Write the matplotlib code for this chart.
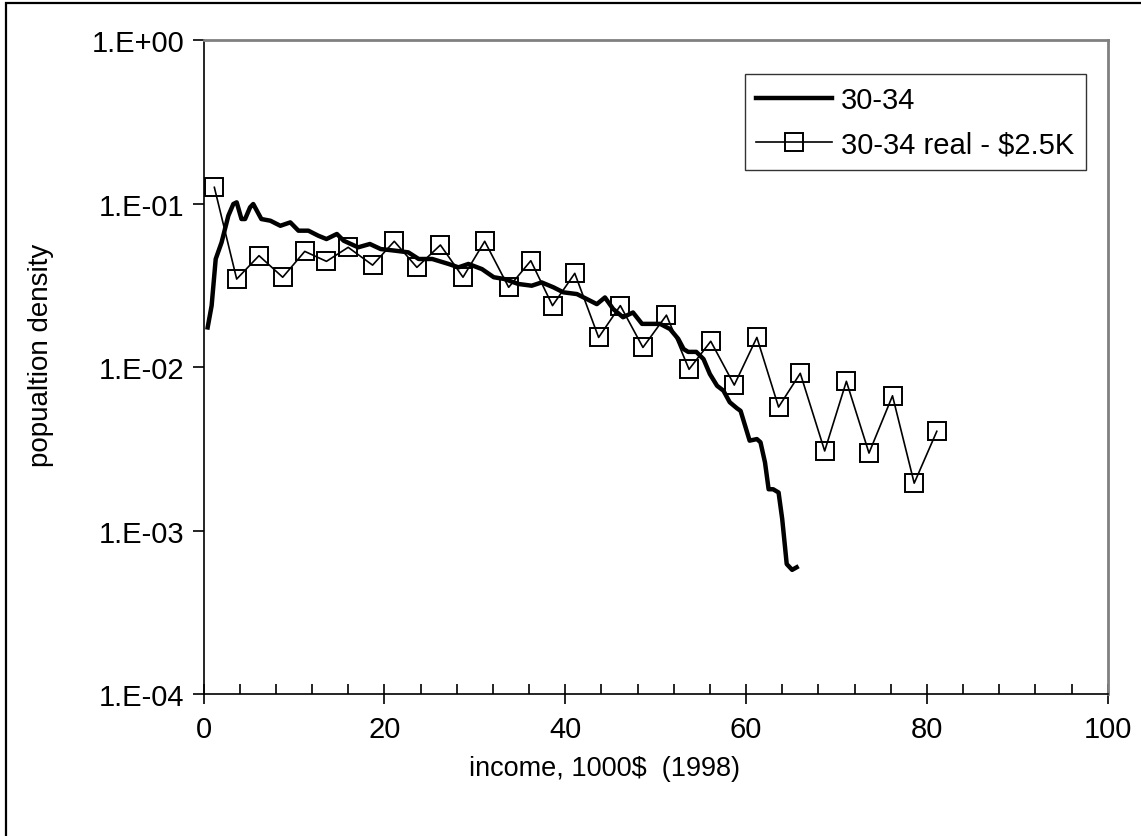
import matplotlib
matplotlib.use("Agg")
import matplotlib.pyplot as plt
from matplotlib.patches import Rectangle
from matplotlib.ticker import FixedLocator, FuncFormatter

plt.rcParams['font.family'] = ['Liberation Sans', 'DejaVu Sans']

# 30-34 (smooth density curve)
age_x = [0.46, 0.9, 1.35, 2.0, 2.75, 3.3, 3.67, 4.2, 4.6, 5.15, 5.5, 6.4, 7.4, 8.5,
         9.6, 10.5, 11.6, 12.7, 13.6, 14.75, 15.5, 17.1, 18.4, 19.6, 21.2, 22.65,
         23.8, 25.3, 27.1, 28.2, 29.3, 30.8, 32.1, 33.3, 34.8, 36.3, 37.4, 38.7,
         39.8, 41.3, 42.4, 43.5, 44.4, 45.3, 46.4, 47.5, 48.5, 49.75, 50.5, 51.6,
         52.5, 53.1, 53.6, 54.5, 55.3, 56.0, 56.8, 57.5, 58.2, 59.0, 59.4, 59.9,
         60.4, 61.2, 61.6, 62.1, 62.5, 63.0, 63.6, 64.0, 64.3, 64.5, 65.1, 65.6]
age_y = [0.0175, 0.0238, 0.0459, 0.058, 0.0845, 0.0996, 0.102, 0.0806, 0.0806, 0.095,
         0.0996, 0.0806, 0.0787, 0.0733, 0.0769, 0.0684, 0.0684, 0.0637, 0.0608,
         0.0653, 0.0594, 0.0541, 0.0567, 0.0528, 0.0516, 0.0504, 0.0459, 0.0459,
         0.0428, 0.0408, 0.0428, 0.0398, 0.0355, 0.0346, 0.0323, 0.0315, 0.033,
         0.0308, 0.0287, 0.028, 0.0261, 0.0243, 0.0267, 0.0227, 0.0202, 0.0216,
         0.0184, 0.0184, 0.0184, 0.0171, 0.0149, 0.0129, 0.0124, 0.0124, 0.0112,
         0.00908, 0.00769, 0.00718, 0.0061, 0.0056, 0.0054, 0.00438, 0.00355,
         0.00363, 0.00347, 0.00261, 0.00179, 0.00179, 0.00171, 0.00118, 0.000807,
         0.000624, 0.000575, 0.000596]

# 30-34 real - $2.5K (binned)
real_x = [1.2, 3.67, 6.14, 8.76, 11.2, 13.6, 16.0, 18.7, 21.1, 23.6, 26.2, 28.7,
          31.1, 33.75, 36.2, 38.6, 41.06, 43.7, 46.1, 48.6, 51.2, 53.7, 56.1,
          58.7, 61.2, 63.6, 66.0, 68.7, 71.1, 73.6, 76.2, 78.6, 81.1]
real_y = [0.126, 0.0346, 0.0481, 0.0355, 0.0511, 0.0444, 0.0541, 0.0421, 0.0589,
          0.0408, 0.0559, 0.0355, 0.0589, 0.0308, 0.0448, 0.0238, 0.0375, 0.0152,
          0.0238, 0.0132, 0.0208, 0.0097, 0.0144, 0.00777, 0.0152, 0.0057,
          0.00917, 0.00307, 0.00819, 0.00298, 0.00668, 0.00195, 0.00405]

y_ticks = [1e-4, 1e-3, 1e-2, 1e-1, 1e0]
y_labels = ['1.E-04', '1.E-03', '1.E-02', '1.E-01', '1.E+00']

W, H = 1141, 837
fig = plt.figure(figsize=(W / 100, H / 100), dpi=100)
ax = fig.add_axes([203.5 / W, 1 - 695 / H, 904.2 / W, 653.7 / H])

# outer chart border (only left/top visible in the crop)
fig.patches.append(Rectangle((6 / W, -0.05), 1.2, 1 - 4 / H + 0.05, transform=fig.transFigure,
                             fill=False, edgecolor='black', linewidth=1.6))

ax.plot(age_x, age_y, color='black', linewidth=3.2, label='30-34', zorder=3)
ax.plot(real_x, real_y, color='black', linewidth=1.2, marker='s', markersize=13,
        markerfacecolor='none', markeredgecolor='black', markeredgewidth=1.4,
        label='30-34 real - $2.5K', zorder=2)

ax.set_yscale('log')
ax.set_xlim(0, 100)
ax.set_ylim(1e-4, 1)
ax.yaxis.set_major_locator(FixedLocator(y_ticks))
ax.yaxis.set_major_formatter(FuncFormatter(lambda v, p: y_labels[y_ticks.index(v)] if v in y_ticks else ''))
ax.yaxis.set_minor_locator(FixedLocator([]))
ax.set_xticks([0, 20, 40, 60, 80, 100])
ax.set_xticks([4, 8, 12, 16, 24, 28, 32, 36, 44, 48, 52, 56, 64, 68, 72, 76, 84, 88, 92, 96], minor=True)

ax.tick_params(axis='x', which='major', direction='inout', length=14, width=1.2, labelsize=21, pad=8)
ax.tick_params(axis='x', which='minor', direction='in', length=7, width=1.2)
ax.tick_params(axis='y', which='major', direction='out', length=8, width=1.2, labelsize=21, pad=6)

for side in ['left', 'bottom']:
    ax.spines[side].set_color('black')
    ax.spines[side].set_linewidth(1.2)
for side in ['top', 'right']:
    ax.spines[side].set_color('#808080')
    ax.spines[side].set_linewidth(2)

ax.set_xlabel('income, 1000$  (1998)', fontsize=19.5)
ax.xaxis.set_label_coords(0.444, -0.094)
ax.set_ylabel('popualtion density', fontsize=20)
ax.yaxis.set_label_coords(-0.165, 0.52)

leg = ax.legend(loc='upper right', bbox_to_anchor=(0.976, 0.948), borderaxespad=0,
                fontsize=21, frameon=True, fancybox=False, handlelength=2.6,
                handletextpad=0.3, borderpad=0.4, labelspacing=0.55)
leg.get_frame().set_edgecolor('black')
leg.get_frame().set_linewidth(1.0)

fig.savefig('out.png', dpi=100)
